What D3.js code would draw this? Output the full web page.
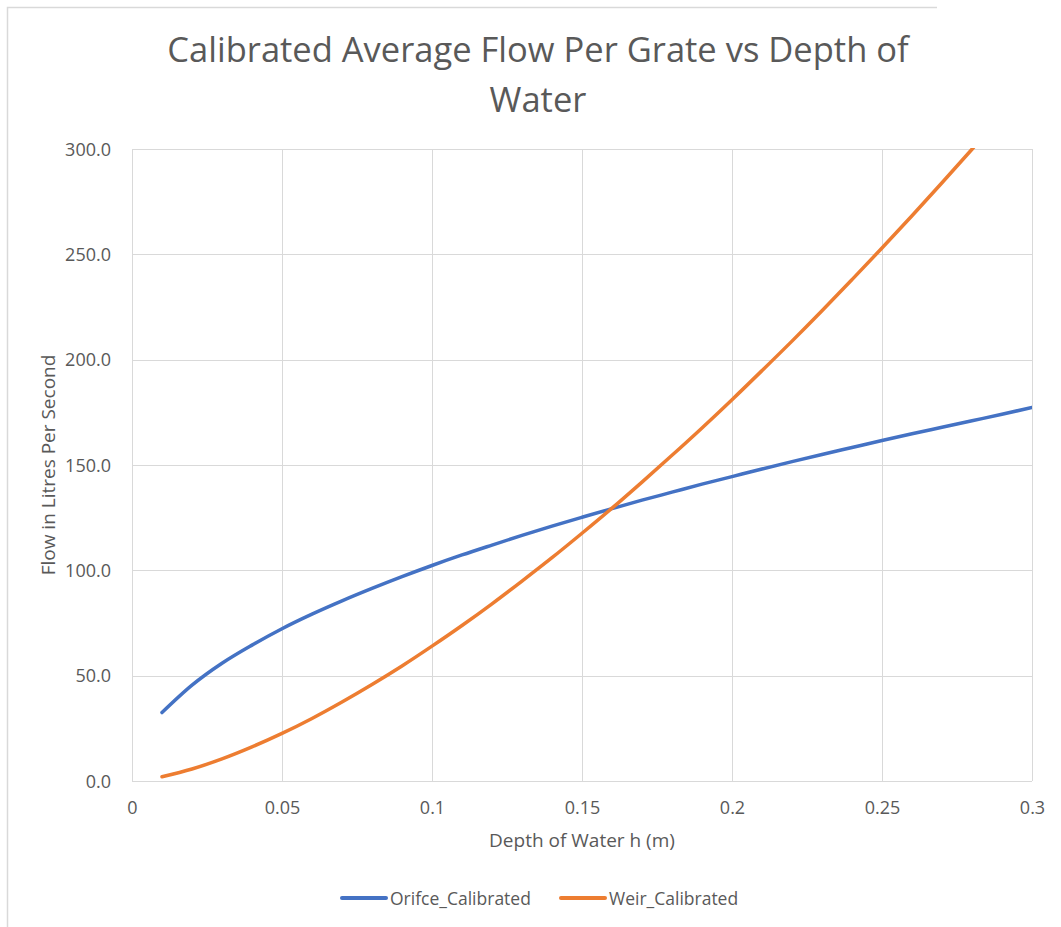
<!DOCTYPE html>
<html>
<head>
<meta charset="utf-8">
<script src="https://cdn.jsdelivr.net/npm/d3@7"></script>
<style>
  body { margin: 0; background: #fff; }
  text { font-family: "Open Sans", "Noto Sans", sans-serif; fill: #595959; }
</style>
</head>
<body>
<script>
// Depth of water h (m)
const depths = [0.01,0.02,0.03,0.04,0.05,0.06,0.07,0.08,0.09,0.10,
                0.11,0.12,0.13,0.14,0.15,0.16,0.17,0.18,0.19,0.20,
                0.21,0.22,0.23,0.24,0.25,0.26,0.27,0.28,0.29,0.30];

// Flow (L/s)
const orificeFlow = [32.5,45.5,55.9,64.5,72.3,79.2,85.5,91.4,97.0,102.3,
                     107.3,112.0,116.6,121.0,125.2,129.3,133.3,137.1,140.9,144.5,
                     148.1,151.6,155.0,158.3,161.6,164.8,167.9,171.0,174.1,177.3];
const weirFlow = [2.0,5.7,10.5,16.2,22.6,29.7,37.5,45.8,54.6,64.0,
                  73.8,84.1,94.9,106.0,117.6,129.5,141.9,154.6,167.6,181.0,
                  194.8,208.8,223.2,238.0,253.0,268.3,284.0,299.9,316.1,332.6];

const seriesNames = ["Orifce_Calibrated","Weir_Calibrated"];
const seriesColors = ["#4472c4","#ed7d31"];
const xTicks = [0,0.05,0.1,0.15,0.2,0.25,0.3];
const yTicks = [0,50,100,150,200,250,300];

const width = 1061, height = 927;
const margin = {top: 149, right: 29, bottom: 146, left: 132};

const svg = d3.select("body").append("svg")
    .attr("width", width)
    .attr("height", height);

// outer chart frame (partly cropped in the source)
svg.append("path")
    .attr("d", "M7.5,927 V7.5 H937")
    .attr("fill", "none")
    .attr("stroke", "#d9d9d9")
    .attr("stroke-width", 1.5);

// Scales
const x = d3.scaleLinear().domain([0, 0.3]).range([margin.left, width - margin.right]);
const y = d3.scaleLinear().domain([0, 300]).range([height - margin.bottom, margin.top]);

// Title
svg.append("text")
    .attr("x", 538).attr("y", 62)
    .attr("text-anchor", "middle")
    .style("font-size", "34.5px")
    .text("Calibrated Average Flow Per Grate vs Depth of");
svg.append("text")
    .attr("x", 538).attr("y", 112)
    .attr("text-anchor", "middle")
    .style("font-size", "34.5px")
    .text("Water");

// Gridlines
const grid = svg.append("g").attr("stroke", "#d9d9d9").attr("stroke-width", 1);
grid.selectAll(".hgrid")
    .data(yTicks)
    .enter().append("line")
    .attr("x1", x(0)).attr("x2", x(0.3))
    .attr("y1", d => Math.round(y(d)) + 0.5).attr("y2", d => Math.round(y(d)) + 0.5);
grid.selectAll(".vgrid")
    .data(xTicks)
    .enter().append("line")
    .attr("y1", y(0)).attr("y2", y(300))
    .attr("x1", d => Math.round(x(d)) + 0.5).attr("x2", d => Math.round(x(d)) + 0.5);

// Axes (labels only)
const yAxis = svg.append("g")
    .attr("transform", "translate(" + (margin.left - 18) + ",0)")
    .call(d3.axisLeft(y).tickValues(yTicks).tickFormat(d3.format(".1f")).tickSize(0));
const xAxis = svg.append("g")
    .attr("transform", "translate(0," + (height - margin.bottom) + ")")
    .call(d3.axisBottom(x).tickValues(xTicks).tickFormat(d => d === 0 ? "0" : String(+d.toFixed(2))).tickSize(0));
[yAxis, xAxis].forEach(a => {
    a.select(".domain").remove();
    a.selectAll("text").style("font-size", "18px").attr("fill", "#595959");
});
yAxis.selectAll("text").attr("dy", "0.35em");
xAxis.selectAll("text").attr("y", 33).attr("dy", 0);

// Axis titles
svg.append("text")
    .attr("x", x(0.15)).attr("y", 847)
    .attr("text-anchor", "middle")
    .style("font-size", "19px")
    .text("Depth of Water h (m)");
svg.append("text")
    .attr("transform", "translate(55," + y(150) + ") rotate(-90)")
    .attr("text-anchor", "middle")
    .style("font-size", "19px")
    .text("Flow in Litres Per Second");

// Lines, clipped to the plot area
svg.append("clipPath").attr("id", "plotClip")
    .append("rect")
    .attr("x", x(0)).attr("y", y(300) - 1)
    .attr("width", x(0.3) - x(0)).attr("height", y(0) - y(300) + 2);

const lineGen = d3.line()
    .x(d => x(d[0]))
    .y(d => y(d[1]))
    .curve(d3.curveMonotoneX);

const seriesData = [orificeFlow, weirFlow];
svg.append("g").attr("clip-path", "url(#plotClip)")
    .selectAll("path")
    .data(seriesData)
    .enter().append("path")
    .attr("d", vals => lineGen(depths.map((h, i) => [h, vals[i]])))
    .attr("fill", "none")
    .attr("stroke", (d, i) => seriesColors[i])
    .attr("stroke-width", 3.5)
    .attr("stroke-linecap", "round");

// Legend
const legendX = [342, 561];
const legend = svg.selectAll(".legend")
    .data(seriesNames)
    .enter().append("g")
    .attr("transform", (d, i) => "translate(" + legendX[i] + ",898)");
legend.append("line")
    .attr("x1", 0).attr("x2", 44)
    .attr("stroke", (d, i) => seriesColors[i])
    .attr("stroke-width", 4)
    .attr("stroke-linecap", "round");
legend.append("text")
    .attr("x", 48).attr("y", 6.5)
    .style("font-size", "17.5px")
    .text(d => d);
</script>
</body>
</html>
